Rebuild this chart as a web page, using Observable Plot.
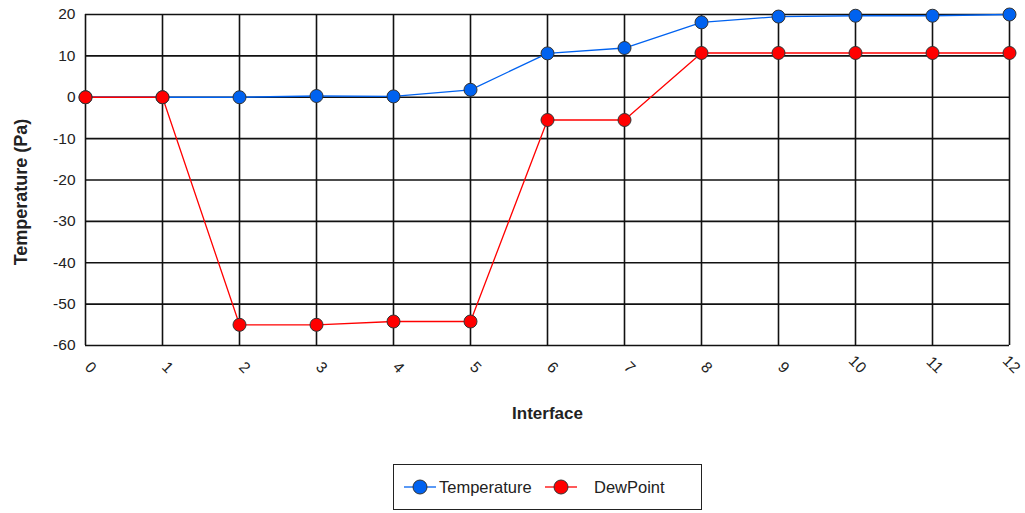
<!DOCTYPE html>
<html>
<head>
<meta charset="utf-8">
<script src="https://cdn.jsdelivr.net/npm/d3@7"></script>
<script src="https://cdn.jsdelivr.net/npm/@observablehq/plot@0.6"></script>
<style>
  html, body { margin: 0; padding: 0; background: #fff; }
  body { width: 1025px; height: 513px; position: relative; font-family: "Liberation Sans", Arial, sans-serif; }
  #legend { position: absolute; left: 393px; top: 464px; width: 307px; height: 44px; border: 1.5px solid #222; box-sizing: content-box; }
  .sw { position: absolute; top: 12px; display: block; }
  .lt { position: absolute; top: 12px; font-size: 16.5px; color: #222; line-height: 20px; white-space: nowrap; }
</style>
</head>
<body>
<div id="chart"></div>
<div id="legend"></div>
<script>
const interfaces = [0, 1, 2, 3, 4, 5, 6, 7, 8, 9, 10, 11, 12];
const temperature = [0, 0, 0, 0.3, 0.2, 1.8, 10.6, 11.9, 18.1, 19.5, 19.7, 19.7, 20];
const dewPoint = [0, 0, -55, -55, -54.2, -54.2, -5.5, -5.5, 10.7, 10.7, 10.7, 10.7, 10.7];
const yTicks = [-60, -50, -40, -30, -20, -10, 0, 10, 20];
const seriesNames = ["Temperature", "DewPoint"];
const seriesColors = ["#0062f0", "#ff0000"];

const rows = [];
interfaces.forEach((x, i) => {
  rows.push({x, y: temperature[i], s: seriesNames[0]});
});
interfaces.forEach((x, i) => {
  rows.push({x, y: dewPoint[i], s: seriesNames[1]});
});

const chart = Plot.plot({
  width: 1025,
  height: 455,
  marginLeft: 85,
  marginRight: 16,
  marginTop: 14,
  marginBottom: 110,
  style: {fontFamily: "Liberation Sans, Arial, sans-serif", fontSize: "15px", color: "#222", background: "#fff"},
  x: {domain: [0, 12], axis: null},
  y: {domain: [-60, 20]},
  color: {domain: seriesNames, range: seriesColors},
  marks: [
    Plot.ruleX(interfaces, {stroke: "#111", strokeWidth: 1.6}),
    Plot.ruleY(yTicks, {stroke: "#111", strokeWidth: 1.6}),
    Plot.axisY(yTicks, {tickSize: 0, tickPadding: 10, fontSize: 15.5, label: null, tickFormat: d => String(d)}),
    Plot.text(interfaces, {x: d => d, text: d => String(d), frameAnchor: "bottom", rotate: 45, textAnchor: "end", lineAnchor: "middle", dx: 8, dy: 25, fontSize: 15.5, fill: "#222"}),
    Plot.text(["Temperature (Pa)"], {frameAnchor: "left", textAnchor: "middle", dx: -64, dy: 12, rotate: -90, fontWeight: "bold", fontSize: 18, fill: "#222"}),
    Plot.text(["Interface"], {frameAnchor: "bottom", dy: 73, fontWeight: "bold", fontSize: 17, fill: "#222"}),
    Plot.line(rows, {x: "x", y: "y", z: "s", stroke: "s", strokeWidth: 1.3}),
    Plot.dot(rows, {x: "x", y: "y", fill: "s", r: 6.5, stroke: "#333", strokeWidth: 1})
  ]
});
document.getElementById("chart").appendChild(chart);

const legend = document.getElementById("legend");
const swatchLeft = [10, 151];
const textLeft = [45, 200];
seriesNames.forEach((name, i) => {
  const col = seriesColors[i];
  const sw = document.createElementNS("http://www.w3.org/2000/svg", "svg");
  sw.setAttribute("class", "sw");
  sw.setAttribute("width", "32");
  sw.setAttribute("height", "20");
  sw.style.left = swatchLeft[i] + "px";
  sw.innerHTML = `<line x1="0" y1="10" x2="32" y2="10" stroke="${col}" stroke-width="1.3"/><circle cx="16" cy="10" r="7" fill="${col}" stroke="#333" stroke-width="1"/>`;
  legend.appendChild(sw);
  const t = document.createElement("div");
  t.className = "lt";
  t.style.left = textLeft[i] + "px";
  t.textContent = name;
  legend.appendChild(t);
});
</script>
</body>
</html>
